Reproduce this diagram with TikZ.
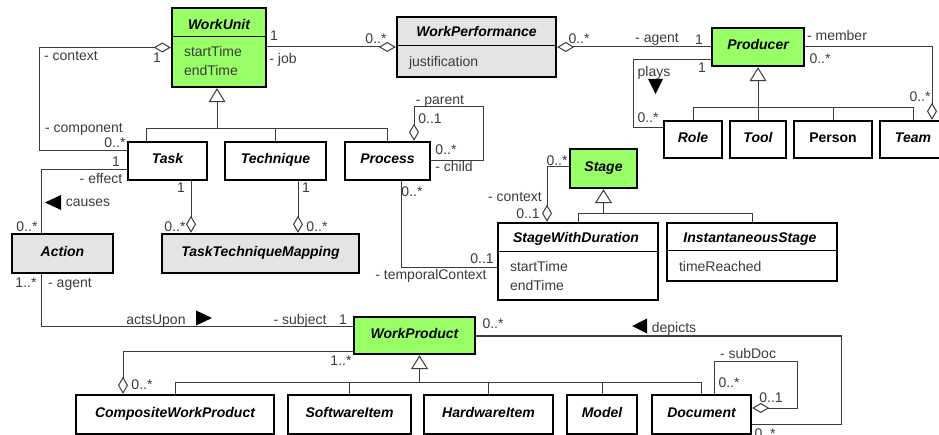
\documentclass[tikz,border=0pt]{standalone}
\usepackage{fontspec}
\setmainfont{Liberation Sans}
\usetikzlibrary{arrows.meta,calc}
\definecolor{umlgreen}{RGB}{153,255,102}
\definecolor{umlgray}{RGB}{228,228,228}
\definecolor{lblc}{RGB}{60,60,60}
\begin{document}
\begin{tikzpicture}[x=1pt,y=-1pt,
  cls/.style={draw=black, line width=2.4pt, fill=white, inner sep=0pt,
    font=\fontsize{14}{16}\selectfont\bfseries\itshape, text height=10pt, text depth=4pt},
  greenbox/.style={fill=umlgreen},
  graybox/.style={fill=umlgray},
  conn/.style={draw=lblc, line width=1pt},
  lbl/.style={text=lblc, font=\fontsize{14}{16}\selectfont, inner sep=0pt, text height=10pt, text depth=0pt},
  attr/.style={lbl, anchor=west},
  cname/.style={inner sep=0pt, font=\fontsize{14}{16}\selectfont\bfseries\itshape, text height=10pt, text depth=0pt},
  divider/.style={draw=black, line width=1pt},
  agg/.style={conn, {Diamond[open,length=17pt,width=10pt,line width=1pt]}-},
  gen/.style={conn, -{Triangle[open,length=14pt,width=17pt,line width=1pt]}},
  dirmark/.style={fill=black},
]
\useasboundingbox (0,0) rectangle (939,435);
\fill[white] (0,0) rectangle (939,435);

% ---------- classes ----------
\node[cls, greenbox, minimum width=94pt, minimum height=79pt] (wu) at (219,47.5) {};
\node[cname] (wuname) at (219,25) {WorkUnit};
\draw[divider] ($(wu.north west)+(0,30)$) -- ($(wu.north east)+(0,30)$);
\node[attr] (wua1) at ($(wu.north west)+(13,45)$) {startTime};
\node[attr] (wua2) at ($(wu.north west)+(13,64)$) {endTime};

\node[cls, graybox, minimum width=159pt, minimum height=60pt] (wperf) at (476.5,47) {};
\node[cname] (wperfname) at (476.5,32) {WorkPerformance};
\draw[divider] ($(wperf.north west)+(0,30)$) -- ($(wperf.north east)+(0,30)$);
\node[attr] (wperfa) at ($(wperf.north west)+(13,46)$) {justification};

\node[cls, greenbox, minimum width=92pt, minimum height=38pt] (prod) at (758,47) {Producer};
\node[cls, minimum width=58pt, minimum height=37pt] (role) at (693,139.5) {Role};
\node[cls, minimum width=56pt, minimum height=37pt] (tool) at (758,139.5) {Tool};
\node[cls, minimum width=78pt, minimum height=37pt, font=\fontsize{14}{16}\selectfont\bfseries] (person) at (833,139.5) {Person};
\node[cls, minimum width=66pt, minimum height=37pt] (team) at (913,139.5) {Team};

\node[cls, minimum width=79pt, minimum height=38pt] (task) at (167.5,161) {Task};
\node[cls, minimum width=101pt, minimum height=38pt] (tech) at (275.5,161) {Technique};
\node[cls, minimum width=85pt, minimum height=38pt] (proc) at (387.5,161) {Process};

\node[cls, graybox, minimum width=101pt, minimum height=39pt] (act) at (62.5,253.5) {Action};
\node[cls, graybox, minimum width=197pt, minimum height=39pt] (ttm) at (260.5,253.5) {TaskTechniqueMapping};

\node[cls, greenbox, minimum width=67pt, minimum height=39pt] (stage) at (603.5,168.5) {Stage};

\node[cls, minimum width=160pt, minimum height=77pt] (swd) at (578,261.5) {};
\node[cname] (swdname) at (576,238) {StageWithDuration};
\draw[divider] ($(swd.north west)+(0,30)$) -- ($(swd.north east)+(0,30)$);
\node[attr] (swda1) at ($(swd.north west)+(13,45)$) {startTime};
\node[attr] (swda2) at ($(swd.north west)+(13,64)$) {endTime};

\node[cls, minimum width=170pt, minimum height=58pt] (inst) at (752,252) {};
\node[cname] (instname) at (750,238) {InstantaneousStage};
\draw[divider] ($(inst.north west)+(0,29)$) -- ($(inst.north east)+(0,29)$);
\node[attr] (insta) at ($(inst.north west)+(13,45)$) {timeReached};

\node[cls, greenbox, minimum width=121pt, minimum height=37pt] (wp) at (414.5,335.5) {WorkProduct};
\node[cls, minimum width=198pt, minimum height=39pt] (cwp) at (175,414.5) {CompositeWorkProduct};
\node[cls, minimum width=123pt, minimum height=39pt] (sw) at (349.5,414.5) {SoftwareItem};
\node[cls, minimum width=129pt, minimum height=39pt] (hw) at (488.5,414.5) {HardwareItem};
\node[cls, minimum width=70pt, minimum height=39pt] (model) at (602,414.5) {Model};
\node[cls, minimum width=99pt, minimum height=39pt] (doc) at (701.5,414.5) {Document};

% ---------- connectors ----------
\draw[agg] (wu.west) -- ++(-131,0) |- ($(task.west)+(0,-10)$);
\draw[conn] ($(task.west)+(0,9)$) -| ($(act.north)+(-21.5,0)$);
\draw[conn] ($(act.south)+(-21.5,0)$) |- ($(wp.west)+(0,-8.5)$);
\draw[agg] (wperf.west) -- (wperf.west -| wu.east);
\draw[agg] (wperf.east) -- (wperf.east -| prod.west);
\draw[conn] ($(prod.west)+(0,13)$) -- ++(-77,0) |- ($(role.west)+(0,-11.5)$);
\draw[agg] ($(team.north)+(19,0)$) |- (prod.east);
\coordinate (pbar) at ($(prod.south)+(0,40)$);
\draw[conn] (role.north) |- (pbar) -| (team.north);
\draw[conn] (person.north) -- (person.north |- pbar);
\draw[gen] (tool.north) -- (prod.south);
\coordinate (wbar) at ($(wu.south)+(-2,40)$);
\draw[conn] ($(task.north)+(-21,0)$) |- (wbar) -| (proc.north);
\draw[conn] (tech.north) -- (tech.north |- wbar);
\draw[gen] (wbar) -- (wbar |- wu.south);
\draw[agg] ($(proc.north)+(26.5,0)$) |- ++(69,-34) |- (proc.east);
\draw[agg] ($(ttm.north)+(-69.5,0)$) -- ($(task.south)+(23.5,0)$);
\draw[agg] ($(ttm.north)+(37.5,0)$) -- ($(tech.south)+(22.5,0)$);
\draw[conn] ($(proc.south)+(13.5,0)$) |- ($(swd.west)+(0,6.5)$);
\draw[agg] ($(swd.north)+(-31,0)$) |- ($(stage.west)+(0,-1.5)$);
\coordinate (sbar) at ($(stage.south)+(0,24)$);
\draw[conn] (swd.north) |- (sbar) -| (inst.north);
\draw[gen] (sbar) -- (stage.south);
\coordinate (wpbar) at ($(wp.south)+(5,27)$);
\draw[conn] (cwp.north) |- (wpbar) -| (doc.north);
\draw[conn] (sw.north) -- (sw.north |- wpbar);
\draw[conn] (hw.north) -- (hw.north |- wpbar);
\draw[conn] (model.north) -- (model.north |- wpbar);
\draw[gen] (wpbar) -- (wpbar |- wp.south);
\draw[agg] ($(cwp.north)+(-52,0)$) |- ($(wp.west)+(0,15.5)$);
\draw[conn] ($(wp.east)+(0,0.5)$) -- ++(365,0) |- ($(doc.east)+(0,9.5)$);
\draw[agg] ($(doc.east)+(0,-6.5)$) -- ++(45,0) |- ($(doc.north)+(12.5,-32)$) -- ($(doc.north)+(12.5,0)$);

% ---------- direction marks ----------
\fill[dirmark] (45,202.5) -- (61,195) -- (61,210) -- cycle;
\fill[dirmark] (212,318) -- (196,310.5) -- (196,325.5) -- cycle;
\fill[dirmark] (655.5,94) -- (648,79) -- (663,79) -- cycle;
\fill[dirmark] (632,326) -- (647,318.5) -- (647,333.5) -- cycle;

% ---------- labels ----------
\node[lbl] (l1) at (71,56) {- context};
\node[lbl] (l2) at (157,58) {1};
\node[lbl] (l3) at (274,36) {1};
\node[lbl] (l4) at (283,59) {- job};
\node[lbl] (l5) at (84,128) {- component};
\node[lbl] (l6) at (115,143) {0..*};
\node[lbl] (l7) at (116,162) {1};
\node[lbl] (l8) at (101,179) {- effect};
\node[lbl] (l9) at (88,202) {causes};
\node[lbl] (l10) at (27,227) {0..*};
\node[lbl] (l11) at (26,283) {1..*};
\node[lbl] (l12) at (70,283) {- agent};
\node[lbl] (l13) at (156,320) {actsUpon};
\node[lbl] (l14) at (300,319) {- subject};
\node[lbl] (l15) at (343,319) {1};
\node[lbl] (l16) at (181,188) {1};
\node[lbl] (l17) at (175,227) {0..*};
\node[lbl] (l18) at (306,188) {1};
\node[lbl] (l19) at (317,227) {0..*};
\node[lbl] (l20) at (376,39) {0..*};
\node[lbl] (l21) at (579,39) {0..*};
\node[lbl] (l22) at (657,38) {- agent};
\node[lbl] (l23) at (699,40) {1};
\node[lbl] (l24) at (837,36) {- member};
\node[lbl] (l25) at (820,59) {0..*};
\node[lbl] (l26) at (702,68) {1};
\node[lbl] (l27) at (654,72) {plays};
\node[lbl] (l28) at (648,118) {0..*};
\node[lbl] (l29) at (920,97) {0..*};
\node[lbl] (l30) at (440,100) {- parent};
\node[lbl] (l31) at (430,119) {0..1};
\node[lbl] (l32) at (446,150) {0..*};
\node[lbl] (l33) at (454,167) {- child};
\node[lbl] (l34) at (412,192) {0..*};
\node[lbl] (l35) at (482,259) {0..1};
\node[lbl] (l36) at (431,275) {- temporalContext};
\node[lbl] (l37) at (557,161) {0..*};
\node[lbl] (l38) at (515,197) {- context};
\node[lbl] (l39) at (528,214) {0..1};
\node[lbl] (l40) at (341,360) {1..*};
\node[lbl] (l41) at (142,384) {0..*};
\node[lbl] (l42) at (493,323) {0..*};
\node[lbl] (l43) at (674,327) {depicts};
\node[lbl] (l44) at (748,353) {- subDoc};
\node[lbl] (l45) at (729,382) {0..*};
\node[lbl] (l46) at (771,397) {0..1};
\node[lbl] (l47) at (765,433) {0..*};
\end{tikzpicture}
\end{document}
